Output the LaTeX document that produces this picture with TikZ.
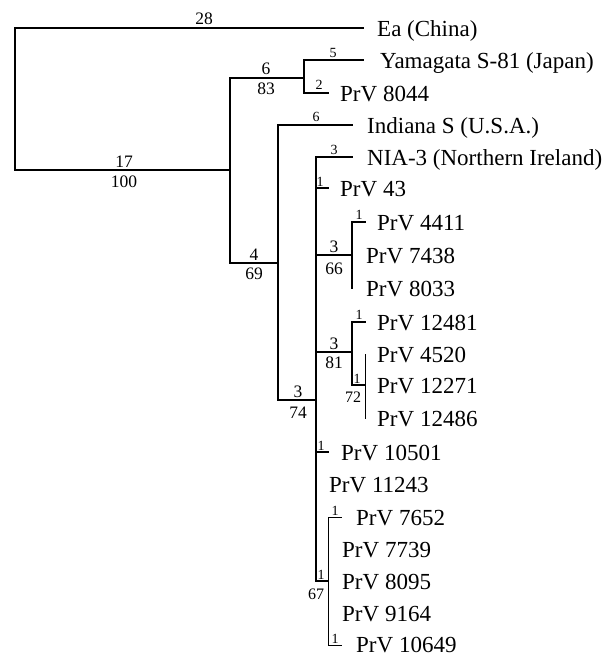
\documentclass[tikz,border=0pt]{standalone}
\usepackage{fontspec}
\setmainfont{Liberation Serif}
\begin{document}
\begin{tikzpicture}[x=1pt,y=-1pt,
 br/.style={line width=1.3pt,line cap=rect},
 thin br/.style={line width=1pt,line cap=rect},
 lf/.style={anchor=base west,inner sep=0pt,font=\fontsize{23}{24}\selectfont},
 bl/.style={anchor=base,inner sep=0pt,font=\fontsize{17.5}{19}\selectfont},
 ml/.style={anchor=base,inner sep=0pt,font=\fontsize{16}{18}\selectfont},
 sl/.style={anchor=base,inner sep=0pt,font=\fontsize{14}{16}\selectfont}]
\useasboundingbox (0,0) rectangle (608,656);
% internal nodes
\coordinate (root) at (15,170);
\coordinate (n17) at (230,170);
\coordinate (n83) at (304,78);
\coordinate (n69) at (278,263);
\coordinate (n74) at (316,400);
\coordinate (n66) at (352,255);
\coordinate (n81) at (352,352);
\coordinate (n72) at (365,385);
\coordinate (n67) at (328,581);
% tips
\coordinate (tEa) at (363,28);
\coordinate (tYam) at (363,60);
\coordinate (t8044) at (328,93);
\coordinate (tInd) at (352,125);
\coordinate (tNIA) at (352,157);
\coordinate (t43) at (328,188);
\coordinate (t4411) at (365,222);
\coordinate (t7438) at (352,255);
\coordinate (t8033) at (352,288);
\coordinate (t12481) at (365,322);
\coordinate (t4520) at (365,354);
\coordinate (t12271) at (365,385);
\coordinate (t12486) at (365,418);
\coordinate (t10501) at (328,452);
\coordinate (t11243) at (316,484);
\coordinate (t7652) at (341,517);
\coordinate (t7739) at (328,549);
\coordinate (t8095) at (328,581);
\coordinate (t9164) at (328,613);
\coordinate (t10649) at (341,645);
% branches
\draw[br] (root) |- (tEa);
\draw[br] (root) -- (n17);
\draw[br] (n17) |- (n83);
\draw[br] (n17) |- (n69);
\draw[br] (n83) |- (tYam);
\draw[br] (n83) |- (t8044);
\draw[br] (n69) |- (tInd);
\draw[br] (n69) |- (n74);
\draw[br] (n74) |- (tNIA);
\draw[br] (n74) |- (t43);
\draw[br] (n74) |- (n66);
\draw[br] (n74) |- (n81);
\draw[br] (n74) |- (t10501);
\draw[br] (n74) |- (t11243);
\draw[br] (n74) |- (n67);
\draw[br] (n66) |- (t4411);
\draw[br] (n66) |- (t7438);
\draw[br] (n66) |- (t8033);
\draw[br] (n81) |- (t12481);
\draw[br] (n81) |- (n72);
\draw[thin br] (n72) |- (t4520);
\draw[thin br] (n72) |- (t12486);
\draw[thin br] (n67) |- (t7652);
\draw[thin br] (n67) |- (t7739);
\draw[thin br] (n67) |- (t9164);
\draw[thin br] (n67) |- (t10649);
% leaf labels
\node[lf] (Ea) at (377,36) {Ea (China)};
\node[lf] (Yam) at (380,68) {Yamagata S-81 (Japan)};
\node[lf] (L8044) at (340,101) {PrV 8044};
\node[lf] (Ind) at (367,133) {Indiana S (U.S.A.)};
\node[lf] (NIA) at (367,165) {NIA-3 (Northern Ireland)};
\node[lf] (L43) at (340,196) {PrV 43};
\node[lf] (L4411) at (377,230) {PrV 4411};
\node[lf] (L7438) at (366,263) {PrV 7438};
\node[lf] (L8033) at (366,296) {PrV 8033};
\node[lf] (L12481) at (377,330) {PrV 12481};
\node[lf] (L4520) at (377,362) {PrV 4520};
\node[lf] (L12271) at (377,393) {PrV 12271};
\node[lf] (L12486) at (377,426) {PrV 12486};
\node[lf] (L10501) at (341,460) {PrV 10501};
\node[lf] (L11243) at (329,492) {PrV 11243};
\node[lf] (L7652) at (356,525) {PrV 7652};
\node[lf] (L7739) at (342,557) {PrV 7739};
\node[lf] (L8095) at (342,589) {PrV 8095};
\node[lf] (L9164) at (342,621) {PrV 9164};
\node[lf] (L10649) at (356,652) {PrV 10649};
% branch labels
\node[bl] (b28) at (204,24) {28};
\node[bl] (b17) at (124,167) {17};
\node[bl] (b100) at (124,187) {100};
\node[bl] (b6) at (266,74) {6};
\node[bl] (b83) at (266,94) {83};
\node[bl] (b4) at (254,260) {4};
\node[bl] (b69) at (254,279) {69};
\node[bl] (b3a) at (298,397) {3};
\node[bl] (b74) at (298,418) {74};
\node[bl] (b3b) at (334,252) {3};
\node[bl] (b66) at (334,274) {66};
\node[bl] (b3c) at (334,349) {3};
\node[bl] (b81) at (334,368) {81};
\node[sl] (s5) at (333,57) {5};
\node[sl] (s2) at (319,89) {2};
\node[sl] (s6) at (316,121) {6};
\node[sl] (s3) at (334,154) {3};
\node[sl] (s1a) at (320,186) {1};
\node[sl] (s1b) at (359,219) {1};
\node[sl] (s1c) at (359,319) {1};
\node[sl] (s1d) at (357,383) {1};
\node[ml] (m72) at (353,402) {72};
\node[sl] (s1e) at (321,450) {1};
\node[sl] (s1f) at (335,515) {1};
\node[sl] (s1g) at (321,579) {1};
\node[ml] (m67) at (316,599) {67};
\node[sl] (s1h) at (335,643) {1};
\end{tikzpicture}
\end{document}
